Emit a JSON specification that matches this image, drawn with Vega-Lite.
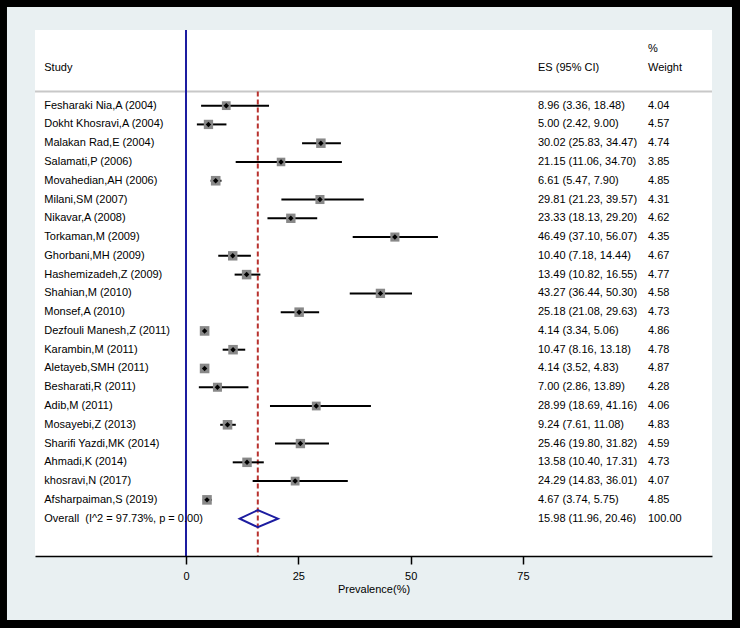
{
  "$schema": "https://vega.github.io/schema/vega-lite/v6.json",
  "width": 677,
  "height": 526,
  "autosize": {"type": "none"},
  "padding": {"left": 35, "top": 30, "right": 28, "bottom": 72},
  "background": "#000000",
  "config": {
    "view": {"stroke": null},
    "font": "Liberation Sans",
    "text": {"font": "Liberation Sans", "fontSize": 11, "color": "#000000"}
  },
  "data": {
    "values": [
      {"row": 1, "study": "Fesharaki Nia,A (2004)", "es": 8.96, "lo": 3.36, "hi": 18.48, "weight": 4.04, "ci": "8.96 (3.36, 18.48)"},
      {"row": 2, "study": "Dokht Khosravi,A (2004)", "es": 5.00, "lo": 2.42, "hi": 9.00, "weight": 4.57, "ci": "5.00 (2.42, 9.00)"},
      {"row": 3, "study": "Malakan Rad,E (2004)", "es": 30.02, "lo": 25.83, "hi": 34.47, "weight": 4.74, "ci": "30.02 (25.83, 34.47)"},
      {"row": 4, "study": "Salamati,P (2006)", "es": 21.15, "lo": 11.06, "hi": 34.70, "weight": 3.85, "ci": "21.15 (11.06, 34.70)"},
      {"row": 5, "study": "Movahedian,AH (2006)", "es": 6.61, "lo": 5.47, "hi": 7.90, "weight": 4.85, "ci": "6.61 (5.47, 7.90)"},
      {"row": 6, "study": "Milani,SM (2007)", "es": 29.81, "lo": 21.23, "hi": 39.57, "weight": 4.31, "ci": "29.81 (21.23, 39.57)"},
      {"row": 7, "study": "Nikavar,A (2008)", "es": 23.33, "lo": 18.13, "hi": 29.20, "weight": 4.62, "ci": "23.33 (18.13, 29.20)"},
      {"row": 8, "study": "Torkaman,M (2009)", "es": 46.49, "lo": 37.10, "hi": 56.07, "weight": 4.35, "ci": "46.49 (37.10, 56.07)"},
      {"row": 9, "study": "Ghorbani,MH (2009)", "es": 10.40, "lo": 7.18, "hi": 14.44, "weight": 4.67, "ci": "10.40 (7.18, 14.44)"},
      {"row": 10, "study": "Hashemizadeh,Z (2009)", "es": 13.49, "lo": 10.82, "hi": 16.55, "weight": 4.77, "ci": "13.49 (10.82, 16.55)"},
      {"row": 11, "study": "Shahian,M (2010)", "es": 43.27, "lo": 36.44, "hi": 50.30, "weight": 4.58, "ci": "43.27 (36.44, 50.30)"},
      {"row": 12, "study": "Monsef,A (2010)", "es": 25.18, "lo": 21.08, "hi": 29.63, "weight": 4.73, "ci": "25.18 (21.08, 29.63)"},
      {"row": 13, "study": "Dezfouli Manesh,Z (2011)", "es": 4.14, "lo": 3.34, "hi": 5.06, "weight": 4.86, "ci": "4.14 (3.34, 5.06)"},
      {"row": 14, "study": "Karambin,M (2011)", "es": 10.47, "lo": 8.16, "hi": 13.18, "weight": 4.78, "ci": "10.47 (8.16, 13.18)"},
      {"row": 15, "study": "Aletayeb,SMH (2011)", "es": 4.14, "lo": 3.52, "hi": 4.83, "weight": 4.87, "ci": "4.14 (3.52, 4.83)"},
      {"row": 16, "study": "Besharati,R (2011)", "es": 7.00, "lo": 2.86, "hi": 13.89, "weight": 4.28, "ci": "7.00 (2.86, 13.89)"},
      {"row": 17, "study": "Adib,M (2011)", "es": 28.99, "lo": 18.69, "hi": 41.16, "weight": 4.06, "ci": "28.99 (18.69, 41.16)"},
      {"row": 18, "study": "Mosayebi,Z (2013)", "es": 9.24, "lo": 7.61, "hi": 11.08, "weight": 4.83, "ci": "9.24 (7.61, 11.08)"},
      {"row": 19, "study": "Sharifi Yazdi,MK (2014)", "es": 25.46, "lo": 19.80, "hi": 31.82, "weight": 4.59, "ci": "25.46 (19.80, 31.82)"},
      {"row": 20, "study": "Ahmadi,K (2014)", "es": 13.58, "lo": 10.40, "hi": 17.31, "weight": 4.73, "ci": "13.58 (10.40, 17.31)"},
      {"row": 21, "study": "khosravi,N (2017)", "es": 24.29, "lo": 14.83, "hi": 36.01, "weight": 4.07, "ci": "24.29 (14.83, 36.01)"},
      {"row": 22, "study": "Afsharpaiman,S (2019)", "es": 4.67, "lo": 3.74, "hi": 5.75, "weight": 4.85, "ci": "4.67 (3.74, 5.75)"},
      {"row": 23, "study": "Overall\u00a0 (I^2 = 97.73%, p = 0.00)", "es": 15.98, "lo": 11.96, "hi": 20.46, "weight": 100.00, "ci": "15.98 (11.96, 20.46)", "overall": true}
    ]
  },
  "encoding": {
    "x": {
      "type": "quantitative",
      "scale": {"domain": [-33.605, 117.063], "nice": false, "zero": false},
      "axis": {
        "values": [0, 25, 50, 75],
        "title": "Prevalence(%)",
        "grid": false,
        "zindex": 1,
        "domainColor": "#000000",
        "domainWidth": 1.5,
        "tickColor": "#000000",
        "tickWidth": 1.5,
        "tickSize": 8,
        "labelPadding": 6,
        "labelFont": "Liberation Sans",
        "labelFontSize": 11,
        "labelColor": "#000000",
        "titleFont": "Liberation Sans",
        "titleFontSize": 11,
        "titleFontWeight": "normal",
        "titleColor": "#000000",
        "titlePadding": 2
      }
    },
    "y": {
      "type": "quantitative",
      "scale": {"domain": [-3.03, 24.99], "nice": false, "zero": false, "reverse": true},
      "axis": null
    }
  },
  "layer": [
    {
      "data": {"values": [{}]},
      "mark": {"type": "rect", "color": "#e9f0f2"},
      "encoding": {
        "x": {"datum": -39.84},
        "x2": {"datum": 121.51},
        "y": {"datum": -4.255},
        "y2": {"datum": 28.40}
      }
    },
    {
      "data": {"values": [{}]},
      "mark": {"type": "rect", "color": "#ffffff"},
      "encoding": {}
    },
    {
      "data": {"values": [{}]},
      "mark": {"type": "rule", "color": "#c8c8c8", "strokeWidth": 2},
      "encoding": {"y": {"datum": 0.25}}
    },
    {
      "data": {"values": [{}]},
      "mark": {"type": "rule", "color": "#1c1ca0", "strokeWidth": 2},
      "encoding": {"x": {"datum": 0}}
    },
    {
      "data": {"values": [{}]},
      "mark": {"type": "rule", "color": "#b8322e", "strokeWidth": 2, "strokeDash": [5, 3]},
      "encoding": {"x": {"datum": 15.98}, "y": {"datum": 0.25}, "y2": {"datum": 24.99}}
    },
    {
      "transform": [{"filter": "!datum.overall"}],
      "mark": {"type": "rule", "color": "#000000", "strokeWidth": 2},
      "encoding": {"x": {"field": "lo"}, "x2": {"field": "hi"}, "y": {"field": "row"}}
    },
    {
      "transform": [{"filter": "!datum.overall"}],
      "mark": {"type": "point", "shape": "square", "filled": true, "color": "#888888", "opacity": 1},
      "encoding": {
        "x": {"field": "es"},
        "y": {"field": "row"},
        "size": {"field": "weight", "type": "quantitative", "scale": {"domain": [0, 5], "range": [0, 95]}, "legend": null}
      }
    },
    {
      "transform": [{"filter": "!datum.overall"}],
      "mark": {"type": "point", "shape": "diamond", "filled": true, "color": "#000000", "size": 30, "opacity": 1},
      "encoding": {"x": {"field": "es"}, "y": {"field": "row"}}
    },
    {
      "transform": [{"filter": "datum.overall"}],
      "mark": {"type": "point", "shape": "M-0.9456,0L0,-0.445L1.0544,0L0,0.445Z", "filled": false, "color": "#1c1ca0", "strokeWidth": 2, "size": 1459, "opacity": 1},
      "encoding": {"x": {"field": "es"}, "y": {"field": "row"}}
    },
    {
      "mark": {"type": "text", "align": "left", "baseline": "middle"},
      "encoding": {"x": {"datum": -31.54}, "y": {"field": "row"}, "text": {"field": "study"}}
    },
    {
      "mark": {"type": "text", "align": "left", "baseline": "middle"},
      "encoding": {"x": {"datum": 78.34}, "y": {"field": "row"}, "text": {"field": "ci"}}
    },
    {
      "mark": {"type": "text", "align": "left", "baseline": "middle"},
      "encoding": {"x": {"datum": 102.82}, "y": {"field": "row"}, "text": {"field": "weight", "type": "quantitative", "format": ".2f"}}
    },
    {
      "data": {"values": [{}]},
      "mark": {"type": "text", "align": "left", "baseline": "middle"},
      "encoding": {"x": {"datum": -31.54}, "y": {"datum": -1}, "text": {"value": "Study"}}
    },
    {
      "data": {"values": [{}]},
      "mark": {"type": "text", "align": "left", "baseline": "middle"},
      "encoding": {"x": {"datum": 78.34}, "y": {"datum": -1}, "text": {"value": "ES (95% CI)"}}
    },
    {
      "data": {"values": [{}]},
      "mark": {"type": "text", "align": "left", "baseline": "middle"},
      "encoding": {"x": {"datum": 102.82}, "y": {"datum": -2}, "text": {"value": "%"}}
    },
    {
      "data": {"values": [{}]},
      "mark": {"type": "text", "align": "left", "baseline": "middle"},
      "encoding": {"x": {"datum": 102.82}, "y": {"datum": -1}, "text": {"value": "Weight"}}
    }
  ]
}
